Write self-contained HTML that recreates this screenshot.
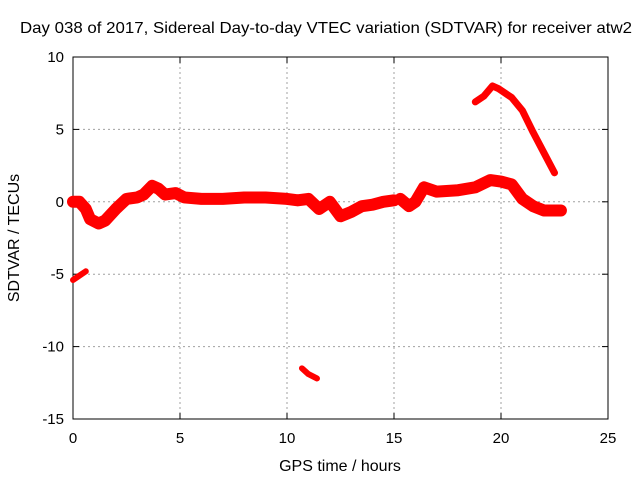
<!DOCTYPE html>
<html><head><meta charset="utf-8"><style>body{margin:0;background:#fff}svg{display:block;font-family:"Liberation Sans",sans-serif}</style></head>
<body>
<svg id="c" width="640" height="480"></svg>
<script>
const xTicks=[0,5,10,15,20,25];
const yTicks=[10,5,0,-5,-10,-15];
const seriesMain=[[0,0],[0.3,0],[0.6,-0.5],[0.8,-1.2],[1.2,-1.5],[1.5,-1.3],[2,-0.5],[2.5,0.2],[3,0.3],[3.3,0.5],[3.7,1.1],[4,0.9],[4.3,0.5],[4.8,0.6],[5.2,0.3],[6,0.2],[7,0.2],[8,0.3],[9,0.3],[10,0.2],[10.5,0.1],[11,0.2],[11.5,-0.5],[12,0],[12.5,-1],[13,-0.7],[13.5,-0.3],[14,-0.2],[14.5,0],[15,0.1]];
const seriesLate=[[15.3,0.2],[15.7,-0.3],[16,0],[16.4,1],[17,0.7],[18,0.8],[18.8,1],[19.5,1.5],[20,1.4],[20.5,1.2],[21,0.2],[21.5,-0.3],[22,-0.6],[22.8,-0.6]];
const seriesUpper=[[18.8,6.9],[19.2,7.3],[19.6,8.0],[19.9,7.8],[20.5,7.2],[21,6.3],[21.5,4.8],[22,3.4],[22.5,2.0]];
const seriesLow1=[[0,-5.4],[0.3,-5.1],[0.6,-4.8]];
const seriesLow2=[[10.7,-11.5],[11.0,-11.9],[11.4,-12.2]];
const L=73,R=608,T=57,B=419;
const X=v=>L+(v-0)/25*(R-L), Y=v=>T+(10-v)/25*(B-T);
const s=document.getElementById('c'),NS='http://www.w3.org/2000/svg';
function mk(t,a,p){const e=document.createElementNS(NS,t);for(const k in a)e.setAttribute(k,a[k]);(p||s).appendChild(e);return e;}
let t=mk('text',{x:20,y:33,'font-size':16,fill:'#000',textLength:612,lengthAdjust:'spacingAndGlyphs'});t.textContent='Day 038 of 2017, Sidereal Day-to-day VTEC variation (SDTVAR) for receiver atw2';


xTicks.forEach(v=>{const x=X(v);
 if(v>0&&v<25){const g=mk('line',{x1:x,x2:x,y1:T,y2:B,stroke:'#a0a0a0','stroke-dasharray':'2,3'});}
 mk('line',{x1:x,x2:x,y1:B,y2:B-6,stroke:'#000'});mk('line',{x1:x,x2:x,y1:T,y2:T+6,stroke:'#000'});
 const l=mk('text',{x:x,y:B+24,'text-anchor':'middle','font-size':15});l.textContent=v;
 
 });
yTicks.forEach(v=>{const y=Y(v);
 if(v<10&&v>-15){const g=mk('line',{x1:L,x2:R,y1:y,y2:y,stroke:'#a0a0a0','stroke-dasharray':'2,3'});}
 mk('line',{x1:L,x2:L+6,y1:y,y2:y,stroke:'#000'});mk('line',{x1:R,x2:R-6,y1:y,y2:y,stroke:'#000'});
 const l=mk('text',{x:L-9,y:y+5,'text-anchor':'end','font-size':15});l.textContent=v;
 
 });
const f=mk('rect',{x:L,y:T,width:R-L,height:B-T,fill:'none',stroke:'#000'});

function series(d,w,name){const p=mk('polyline',{points:d.map(q=>X(q[0])+','+Y(q[1])).join(' '),fill:'none',stroke:'#ff0000','stroke-width':w,'stroke-linejoin':'round','stroke-linecap':'round'});
 
 }
series(seriesMain,12,'sdtvar-series-main');
series(seriesLate,12,'sdtvar-series-late');
series(seriesUpper,7,'sdtvar-series-upper');
series(seriesLow1,6,'sdtvar-series-low1');
series(seriesLow2,6,'sdtvar-series-low2');
t=mk('text',{x:340,y:471,'text-anchor':'middle','font-size':16});t.textContent='GPS time / hours';

t=mk('text',{x:0,y:0,'text-anchor':'middle','font-size':16,transform:'translate(19,238) rotate(-90)'});t.textContent='SDTVAR / TECUs';

</script>
</body></html>
